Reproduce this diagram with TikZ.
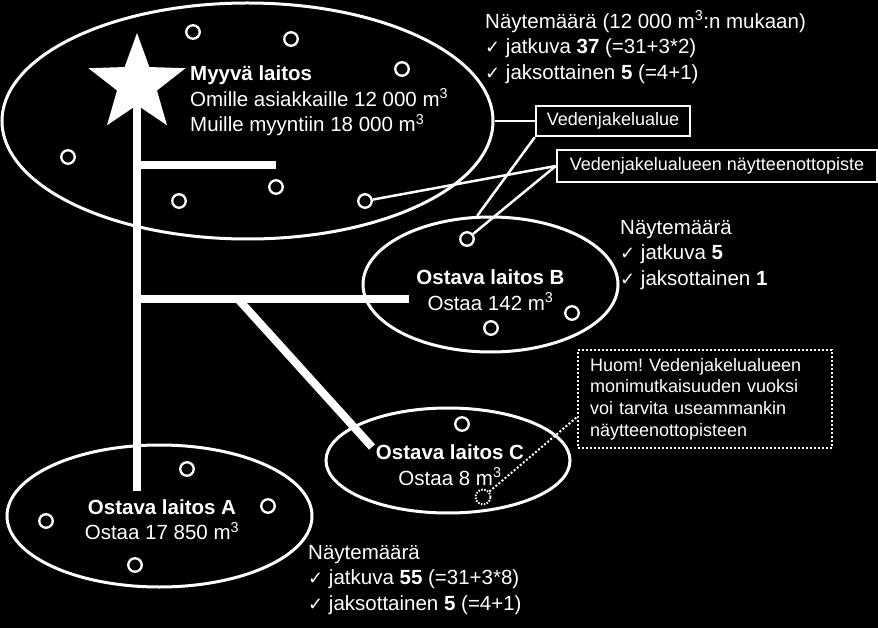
\documentclass[tikz,border=0pt]{standalone}
\usepackage{fontspec}
\setmainfont{Liberation Sans}
\newfontfamily\symf{DejaVu Sans}
\usetikzlibrary{shapes.geometric,calc}
\newcommand\ck{{\symf\fontsize{18}{18}\selectfont ✓}}
\newcommand\cub{\textsuperscript{3}}
\frenchspacing
\begin{document}
\begin{tikzpicture}[x=1pt,y=-1pt,
  area/.style={ellipse, draw=white, line width=3pt, inner sep=0pt},
  pt/.style={circle, draw=white, line width=2.3pt, minimum size=13.5pt, inner sep=0pt},
  pipe/.style={draw=white, line width=8pt},
  lab/.style={draw=white, line width=2.5pt, text=white, font=\fontsize{18}{21.7}\selectfont, inner sep=0pt},
  lead/.style={draw=white, line width=2.5pt},
  txt/.style={text=white, font=\fontsize{20.5}{25.5}\selectfont, align=left, inner sep=0pt}]
\fill[black] (0,0) rectangle (878,628);
\useasboundingbox (0,0) rectangle (878,628);

% areas
\node[area, minimum width=491pt, minimum height=236pt] (top) at (247.5,121) {};
\node[area, minimum width=305pt, minimum height=142pt] (A) at (159.5,516) {};
\node[area, minimum width=255pt, minimum height=135pt] (B) at (490.5,284.5) {};
\node[area, minimum width=244pt, minimum height=105pt] (C) at (448,460.5) {};

% star
\fill[white] (137,84) +(-90:51) -- +(-54:21) -- +(-18:51) -- +(18:21) -- +(54:51)
  -- +(90:21) -- +(126:51) -- +(162:21) -- +(198:51) -- +(234:21) -- cycle;

% pipes
\coordinate (p0) at (136.5,84);
\coordinate (p1) at (136.5,491);
\coordinate (h1a) at (136.5,165);
\coordinate (h1b) at (276,165);
\coordinate (h2a) at (136.5,299);
\coordinate (h2b) at (409,299);
\coordinate (d0) at (238,299);
\coordinate (d1) at (372,447);
\draw[pipe] (p0) -- (p1);
\draw[pipe] (h1a) -- (h1b);
\draw[pipe] (h2a) -- (h2b);
\draw[pipe] (d0) -- (d1);

% sampling points
\node[pt] (t1) at (193,32) {};
\node[pt] (t2) at (291,39) {};
\node[pt] (t3) at (402,69) {};
\node[pt] (t4) at (68,157) {};
\node[pt] (t5) at (276,187) {};
\node[pt] (t6) at (179,201) {};
\node[pt] (t7) at (365,201) {};
\node[pt] (b1) at (467,239) {};
\node[pt] (b2) at (572,313) {};
\node[pt] (b3) at (491,328) {};
\node[pt] (c1) at (462,424) {};
\node[pt, line width=2pt, dash pattern=on 1.5pt off 1.5pt, minimum size=15pt] (dc) at (483,497) {};
\node[pt] (a1) at (187,469) {};
\node[pt] (a2) at (46,521) {};
\node[pt] (a3) at (268,506) {};
\node[pt] (a4) at (135,565) {};

% labels
\node[lab, minimum width=154pt, minimum height=30pt] (vj) at (613,121) {Vedenjakelualue};
\node[lab, minimum width=320pt, minimum height=32pt] (np) at (717,166) {Vedenjakelualueen näytteenottopiste};
\node[lab, line width=2pt, dash pattern=on 2pt off 2pt, minimum width=254pt, minimum height=98pt,
  text width=230pt, align=left] (huom) at (705,399)
  {Huom! Vedenjakelualueen\\monimutkaisuuden vuoksi\\voi tarvita useammankin\\näytteenottopisteen};

\draw[lead] (top.east) -- (vj.west);
\draw[lead] (vj.south west) -- (B.101);
\draw[lead] (np.west) -- (t7);
\draw[lead] (np.west) -- (b1);
\draw[draw=white, line width=2pt, dash pattern=on 2pt off 2pt] (dc) -- ($(huom.west)+(0,18)$);

% texts
\node[txt, anchor=west] (myy) at (190,101) {\textbf{Myyvä laitos}\\Omille asiakkaille 12 000 m\cub\\Muille myyntiin 18 000 m\cub};
\node[txt, anchor=west] (nm1) at (485,47) {Näytemäärä (12 000 m\cub:n mukaan)\\\ck\ jatkuva \textbf{37} (=31+3*2)\\\ck\ jaksottainen \textbf{5} (=4+1)};
\node[txt, anchor=west] (nmB) at (620,255) {Näytemäärä\\\ck\ jatkuva \textbf{5}\\\ck\ jaksottainen \textbf{1}};
\node[txt, anchor=west] (nmA) at (308,580) {Näytemäärä\\\ck\ jatkuva \textbf{55} (=31+3*8)\\\ck\ jaksottainen \textbf{5} (=4+1)};
\node[txt, align=center] (la) at (162,519.5) {\textbf{Ostava laitos A}\\Ostaa 17 850 m\cub};
\node[txt, align=center] (lb) at (490.5,290) {\textbf{Ostava laitos B}\\Ostaa 142 m\cub};
\node[txt, align=center] (lc) at (450,465) {\textbf{Ostava laitos C}\\Ostaa 8 m\cub};
\end{tikzpicture}
\end{document}
